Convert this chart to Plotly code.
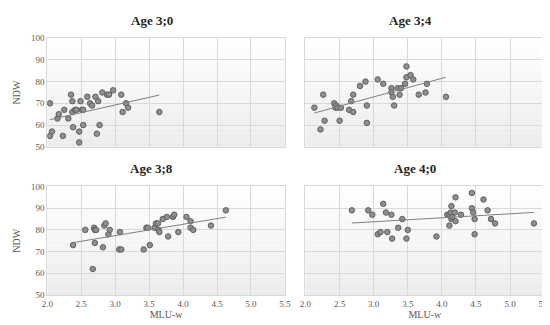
import numpy as np
import plotly.graph_objects as go

# ---------------- data ----------------
titles = ["Age 3;0", "Age 3;4", "Age 3;8", "Age 4;0"]

mlu_30 = [2.04, 2.04, 2.07, 2.15, 2.17, 2.23, 2.25, 2.31, 2.35, 2.37, 2.37, 2.38, 2.41, 2.43,
          2.47, 2.47, 2.49, 2.51, 2.53, 2.53, 2.59, 2.63, 2.66, 2.71, 2.73, 2.75, 2.77, 2.81,
          2.88, 2.91, 2.97, 3.09, 3.11, 3.16, 3.19, 3.65]
ndw_30 = [70, 55, 57, 63, 65, 55, 67, 63, 74, 71, 66, 59, 67, 67,
          57, 52, 71, 67, 67, 60, 73, 70, 69, 73, 56, 71, 60, 75,
          74, 74, 76, 74, 66, 70, 68, 66]

mlu_34 = [2.13, 2.22, 2.26, 2.28, 2.42, 2.44, 2.45, 2.47, 2.50, 2.52, 2.64, 2.67, 2.70, 2.70,
          2.80, 2.88, 2.90, 2.90, 3.06, 3.14, 3.26, 3.26, 3.28, 3.30, 3.35, 3.38, 3.40, 3.46,
          3.48, 3.48, 3.54, 3.58, 3.66, 3.76, 3.78, 4.06]
ndw_34 = [68, 58, 74, 62, 70, 68, 69, 68, 62, 68, 67, 71, 74, 66,
          78, 80, 69, 61, 81, 79, 77, 75, 73, 69, 77, 74, 77, 79,
          82, 87, 83, 81, 74, 75, 79, 73]

mlu_38 = [2.38, 2.56, 2.67, 2.69, 2.70, 2.70, 2.72, 2.82, 2.84, 2.86, 2.90, 2.92, 3.06, 3.07,
          3.09, 3.42, 3.46, 3.48, 3.51, 3.58, 3.60, 3.63, 3.64, 3.65, 3.70, 3.76, 3.78, 3.85,
          3.87, 3.93, 4.05, 4.11, 4.11, 4.15, 4.41, 4.63]
ndw_38 = [73, 80, 62, 81, 74, 80, 80, 72, 82, 83, 78, 80, 71, 79,
          71, 71, 81, 81, 73, 81, 83, 83, 80, 79, 85, 86, 77, 86,
          87, 79, 86, 84, 81, 80, 82, 89]

mlu_40 = [2.68, 2.92, 2.98, 3.06, 3.10, 3.14, 3.18, 3.20, 3.26, 3.27, 3.36, 3.42, 3.48, 3.50,
          3.92, 4.08, 4.11, 4.11, 4.13, 4.14, 4.14, 4.15, 4.19, 4.20, 4.20, 4.28, 4.44, 4.44,
          4.46, 4.48, 4.48, 4.61, 4.67, 4.72, 4.78, 5.35]
ndw_40 = [89, 89, 87, 78, 79, 92, 88, 79, 87, 76, 81, 85, 76, 80,
          77, 87, 87, 82, 88, 85, 91, 86, 88, 84, 95, 87, 97, 90,
          88, 85, 78, 94, 89, 85, 83, 83]

series_x = [mlu_30, mlu_34, mlu_38, mlu_40]
series_y = [ndw_30, ndw_34, ndw_38, ndw_40]

x_ticks = [2.0, 2.5, 3.0, 3.5, 4.0, 4.5, 5.0, 5.5]
y_ticks = [50, 60, 70, 80, 90, 100]

# ---------------- layout geometry ----------------
W, H = 550, 325
panels = [  # (left, right, top, bottom) in px
    (34, 277, 26, 138),
    (298, 542, 26, 138),
    (34, 277, 179, 291),
    (298, 542, 179, 291),
]
title_pos = [(141, 8), (405, 8), (141, 160), (410, 160)]
show_x = [False, False, True, True]
show_y = [True, False, True, False]

serif = "Liberation Serif, Times New Roman, serif"
grey_txt = "#595959"

fig = go.Figure()
layout = dict(
    width=W, height=H, margin=dict(l=0, r=0, t=0, b=0),
    paper_bgcolor="white", plot_bgcolor="rgba(0,0,0,0)",
    showlegend=False, shapes=[], annotations=[],
)

for i in range(4):
    sfx = "" if i == 0 else str(i + 1)
    xa, ya = "x" + sfx, "y" + sfx
    l, r, t, b = panels[i]
    xs = np.array(series_x[i])
    ys = np.array(series_y[i])

    fig.add_trace(go.Scatter(
        x=xs, y=ys, mode="markers", xaxis=xa, yaxis=ya,
        marker=dict(size=5.5, color="#8f8f8f", line=dict(color="#5e5e5e", width=1)),
        hoverinfo="x+y",
    ))
    k, c = np.polyfit(xs, ys, 1)
    lx = np.array([xs.min(), xs.max()])
    fig.add_trace(go.Scatter(
        x=lx, y=k * lx + c, mode="lines", xaxis=xa, yaxis=ya,
        line=dict(color="#7f7f7f", width=1), hoverinfo="skip",
    ))

    axis_common = dict(
        showgrid=True, gridcolor="#d9d9d9", gridwidth=1, zeroline=False,
        showline=True, linecolor="#d9d9d9", linewidth=1, mirror=True,
        tickfont=dict(family=serif, size=9, color=grey_txt), ticks="",
    )
    layout["xaxis" + sfx] = dict(
        axis_common, domain=[l / W, r / W], range=[2.0, 5.5],
        tickvals=x_ticks, ticktext=[f"{v:.1f}" for v in x_ticks],
        showticklabels=show_x[i], anchor=ya,
        title=dict(text="MLU-w" if show_x[i] else "", font=dict(family=serif, size=10, color=grey_txt), standoff=2),
    )
    layout["yaxis" + sfx] = dict(
        axis_common, domain=[1 - b / H, 1 - t / H], range=[50, 100],
        tickvals=y_ticks, showticklabels=show_y[i], anchor=xa,
        title=dict(text="NDW" if show_y[i] else "", font=dict(family=serif, size=10, color=grey_txt), standoff=8),
    )

    # vertical gradient background (white top -> light grey bottom)
    n = 24
    for j in range(n):
        f = (j + 0.5) / n
        g = int(round(255 - 19 * f))
        layout["shapes"].append(dict(
            type="rect", xref=xa + " domain", yref=ya + " domain",
            x0=0, x1=1, y0=1 - (j + 1) / n, y1=1 - j / n,
            fillcolor=f"rgb({g},{g},{g})", line=dict(width=0), layer="below",
        ))

    tx, ty = title_pos[i]
    layout["annotations"].append(dict(
        text=f"<b>{titles[i]}</b>", x=tx / W, y=1 - ty / H, xref="paper", yref="paper",
        showarrow=False, xanchor="center", yanchor="middle",
        font=dict(family=serif, size=13, color="#262626"),
    ))

fig.update_layout(**layout)
fig.write_html("out.html")
